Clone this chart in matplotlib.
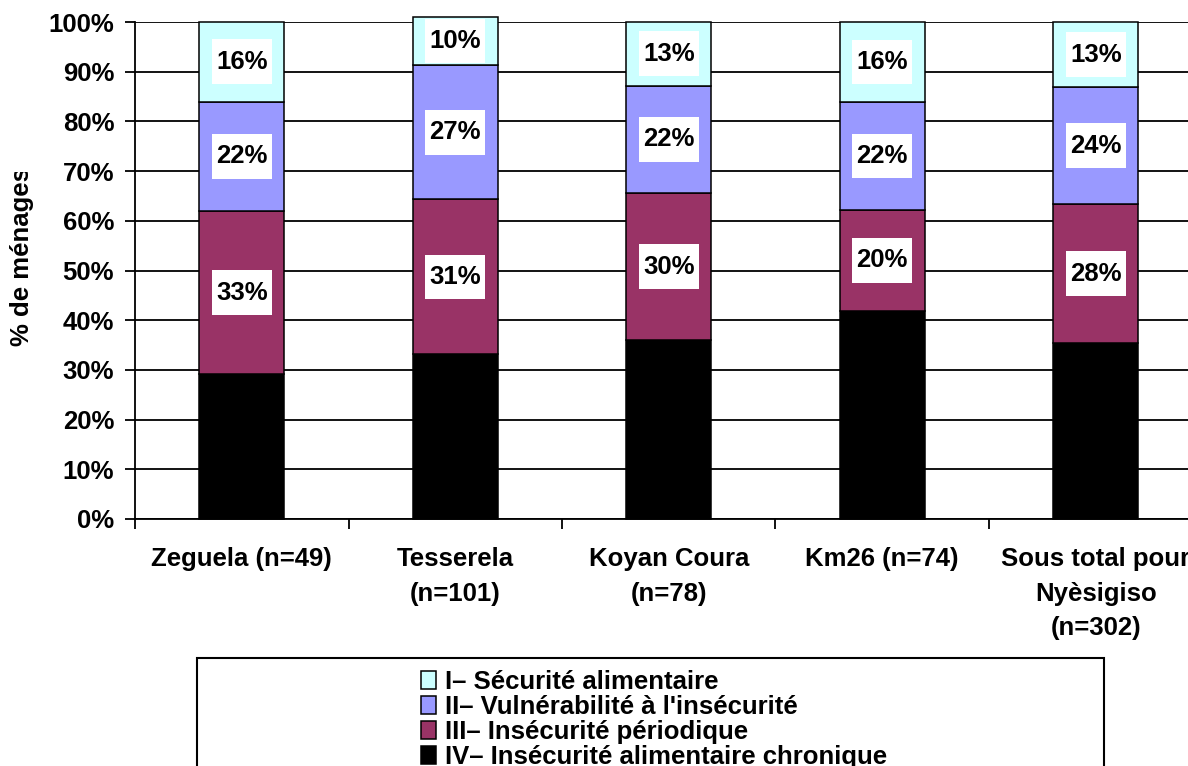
import numpy as np
import matplotlib
matplotlib.use("Agg")
import matplotlib.pyplot as plt
from matplotlib.patches import Rectangle
from matplotlib.transforms import Bbox, TransformedBbox

plt.rcParams['font.family'] = ['Liberation Sans', 'DejaVu Sans']
plt.rcParams['font.weight'] = 'bold'

# categories and shares (%)
categories = ["Zeguela (n=49)", "Tesserela\n(n=101)", "Koyan Coura\n(n=78)",
              "Km26 (n=74)", "Sous total pour\nNyèsigiso\n(n=302)"]
chronique = [29.1, 33.1, 36.0, 41.9, 35.4]     # IV
periodique = [32.9, 31.2, 29.6, 20.3, 27.9]    # III
vulnerable = [22.0, 27.0, 21.6, 21.7, 23.6]    # II
securite = [16.0, 9.7, 12.8, 16.1, 13.1]       # I

series = [
    ("IV– Insécurité alimentaire chronique", chronique, "#000000", False),
    ("III– Insécurité périodique", periodique, "#993366", True),
    ("II– Vulnérabilité à l'insécurité", vulnerable, "#9999FF", True),
    ("I– Sécurité alimentaire", securite, "#CCFFFF", True),
]

FS = 18.5
W, H = 1188, 766
fig = plt.figure(figsize=(W / 100, H / 100), dpi=100)
ax = fig.add_axes([135 / W, (H - 519) / H, 1067.5 / W, 497 / H])

# white label boxes: width in category units, height in %
box_w, box_h = 0.28, 9.0

x = np.arange(len(categories))
bottom = np.zeros(len(categories))
handles = {}
for name, vals, color, labelled in series:
    vals = np.array(vals)
    bars = ax.bar(x, vals, 0.4, bottom=bottom, color=color, edgecolor="black",
                  linewidth=1.1, clip_on=False, zorder=3, label=name)
    handles[name] = bars
    if labelled:
        for xi, b, v in zip(x, bottom, vals):
            yc = b + v / 2
            ax.add_patch(Rectangle((xi - box_w / 2, yc - box_h / 2), box_w, box_h,
                                   fc="white", ec="none", zorder=4, clip_on=False))
            ax.text(xi, yc, f"{round(v):d}%", ha="center", va="center",
                    fontsize=FS, fontweight="bold", zorder=5)
    bottom += vals

ax.set_xlim(-0.5, len(categories) - 0.5)
ax.set_ylim(0, 100)
ax.set_yticks(np.arange(0, 101, 10))
ax.set_yticklabels([f"{v}%" for v in range(0, 101, 10)])
ax.yaxis.grid(True, color="black", linewidth=1.3)
ax.set_axisbelow(True)

ax.set_xticks(x)
ax.set_xticklabels(categories, linespacing=1.55)
ax.set_xticks(np.arange(len(categories) + 1) - 0.5, minor=True)
ax.tick_params(axis="x", which="major", length=0, pad=20.5, labelsize=FS)
ax.tick_params(axis="x", which="minor", length=7, width=1.3, direction="out")
ax.tick_params(axis="y", length=7, width=1.3, pad=8, labelsize=FS)
for t in ax.get_xticklabels() + ax.get_yticklabels():
    t.set_fontweight("bold")

for s in ["top", "right"]:
    ax.spines[s].set_visible(False)
for s in ["left", "bottom"]:
    ax.spines[s].set_linewidth(1.3)

ylab = fig.text(22 / W, 1 - 257 / H, "% de ménages", rotation=90, ha="center",
                va="center", fontsize=FS, fontweight="bold")
ylab.set_clip_box(TransformedBbox(Bbox([[0, 0], [135 / W, (H - 172) / H]]),
                                  fig.transFigure))
ylab.set_clip_on(True)

# legend frame (bottom runs off the picture)
fig.add_artist(Rectangle((197 / W, -0.1), (1104 - 197) / W, 0.1 + (H - 658) / H,
                         transform=fig.transFigure, fill=False, ec="black", lw=1.5))
order = [s[0] for s in series][::-1]
leg = fig.legend([handles[n] for n in order], order, loc="upper left",
                 bbox_to_anchor=(421 / W, 1 - 670 / H), frameon=False,
                 borderpad=0, borderaxespad=0,
                 handlelength=0.6, handleheight=0.65, handletextpad=0.35,
                 labelspacing=0.04, prop={"weight": "bold", "size": FS})

fig.savefig("out.png", dpi=100)
